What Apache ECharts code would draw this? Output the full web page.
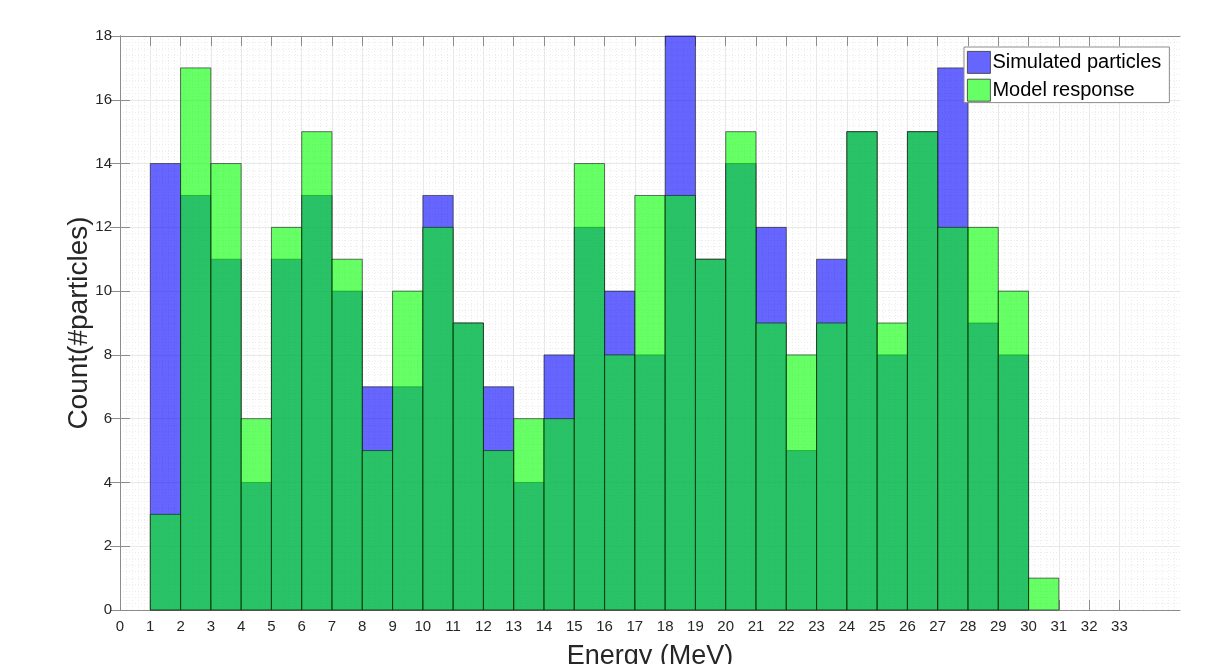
<!DOCTYPE html>
<html>
<head>
<meta charset="utf-8">
<script src="https://cdn.jsdelivr.net/npm/echarts@6/dist/echarts.min.js"></script>
<style>html,body{margin:0;padding:0;background:#fff}#c{width:1209px;height:664px}</style>
</head>
<body>
<div id="c"></div>
<script>
const binStarts = [1,2,3,4,5,6,7,8,9,10,11,12,13,14,15,16,17,18,19,20,21,22,23,24,25,26,27,28,29,30];
const simulated = [14,13,11,4,11,13,10,7,7,13,9,7,4,8,12,10,8,18,11,14,12,5,11,15,8,15,17,9,8,0];
const model =     [3,17,14,6,12,15,11,5,10,12,9,5,6,6,14,8,13,13,11,15,9,8,9,15,9,15,12,12,10,1];
const xTicks = [0,1,2,3,4,5,6,7,8,9,10,11,12,13,14,15,16,17,18,19,20,21,22,23,24,25,26,27,28,29,30,31,32,33];
const seriesNames = ['Simulated particles', 'Model response'];
const binWidth = 1;

const FONT = '"Liberation Sans", Arial, Helvetica, sans-serif';
const axisGray = '#8c8c8c';
const textCol = '#262626';

function toData(vals){ return binStarts.map((s,i)=>[s, s+binWidth, vals[i]]); }
function makeRender(fill){
  return function(params, api){
    const v = api.value(2);
    if (!v) return null;
    const p0 = api.coord([api.value(0), v]);
    const p1 = api.coord([api.value(1), 0]);
    return {type:'rect', shape:{x:p0[0], y:p0[1], width:p1[0]-p0[0], height:p1[1]-p0[1]},
      style:{fill:fill, stroke:'rgba(20,20,20,0.75)', lineWidth:0.8}};
  };
}

const chart = echarts.init(document.getElementById('c'), null, {renderer:'canvas'});
chart.setOption({
  animation:false,
  backgroundColor:'#fff',
  grid:{left:120, right:29, top:36, bottom:54, containLabel:false, outerBoundsMode:'none'},
  legend:{
    orient:'vertical', left:964, top:47, width:206,
    backgroundColor:'#fff', borderColor:'#8c8c8c', borderWidth:1,
    padding:[4,8,1,3], itemGap:5, itemWidth:23, itemHeight:22,
    textStyle:{fontFamily:FONT, fontSize:20, color:'#000', padding:[0,0,0,-3]},
    data:[
      {name:seriesNames[0], icon:'rect', itemStyle:{color:'#6666ff', borderColor:'#333', borderWidth:0.8}},
      {name:seriesNames[1], icon:'rect', itemStyle:{color:'#66ff66', borderColor:'#333', borderWidth:0.8}}
    ]
  },
  xAxis:[{
    type:'value', min:0, max:35, interval:1,
    name:'Energy (MeV)', nameLocation:'middle', nameGap:33,
    nameTextStyle:{fontFamily:FONT, fontSize:27, color:textCol},
    axisLine:{show:true, onZero:false, lineStyle:{color:axisGray, width:1}},
    axisTick:{show:true, inside:true, length:10, customValues:xTicks, lineStyle:{color:axisGray}},
    axisLabel:{customValues:xTicks, fontFamily:FONT, fontSize:15, color:textCol, margin:9},
    splitLine:{show:true, lineStyle:{color:'#e8e8e8', width:1}},
    minorTick:{show:false, splitNumber:5},
    minorSplitLine:{show:true, lineStyle:{color:'#ececec', type:[1,2], width:1}}
  },{
    type:'value', min:0, max:35, interval:1, position:'top',
    axisLine:{show:true, onZero:false, lineStyle:{color:axisGray}},
    axisTick:{show:true, inside:true, length:10, customValues:xTicks, lineStyle:{color:axisGray}},
    axisLabel:{show:false}, splitLine:{show:false}
  }],
  yAxis:[{
    type:'value', min:0, max:18, interval:2,
    name:'Count(#particles)', nameLocation:'middle', nameGap:27, nameMoveOverlap:false,
    nameTextStyle:{fontFamily:FONT, fontSize:28, color:textCol},
    axisLine:{show:true, lineStyle:{color:axisGray, width:1}},
    axisTick:{show:true, inside:true, length:10, lineStyle:{color:axisGray}},
    axisLabel:{fontFamily:FONT, fontSize:15, color:textCol, margin:8},
    splitLine:{show:true, lineStyle:{color:'#e8e8e8', width:1}},
    minorTick:{show:false, splitNumber:10},
    minorSplitLine:{show:true, lineStyle:{color:'#ececec', type:[1,2], width:1}}
  },{
    type:'value', min:0, max:18, interval:2, position:'right',
    axisLine:{show:true, lineStyle:{color:axisGray}},
    axisTick:{show:true, inside:true, length:10, lineStyle:{color:axisGray}},
    axisLabel:{show:false}, splitLine:{show:false}
  }],
  series:[
    {name:seriesNames[0], type:'custom', xAxisIndex:0, yAxisIndex:0,
     itemStyle:{color:'#6666ff'},
     renderItem:makeRender('rgba(0,0,255,0.6)'), encode:{x:[0,1], y:2}, data:toData(simulated)},
    {name:seriesNames[1], type:'custom', xAxisIndex:0, yAxisIndex:0,
     itemStyle:{color:'#66ff66'},
     renderItem:makeRender('rgba(0,255,0,0.6)'), encode:{x:[0,1], y:2}, data:toData(model)}
  ]
});
</script>
</body>
</html>
